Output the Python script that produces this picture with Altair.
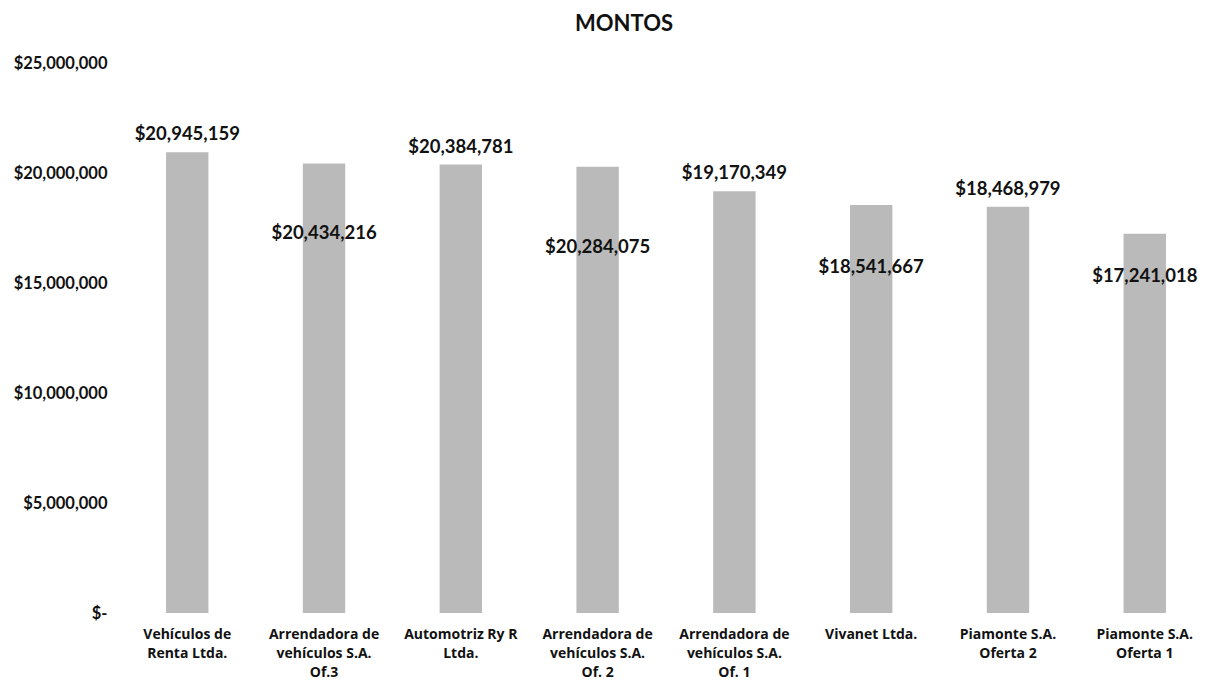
import altair as alt
import pandas as pd

names = [
    "Vehículos de|Renta Ltda.",
    "Arrendadora de|vehículos S.A.|Of.3",
    "Automotriz Ry R|Ltda.",
    "Arrendadora de|vehículos S.A.|Of. 2",
    "Arrendadora de|vehículos S.A.|Of. 1",
    "Vivanet Ltda.",
    "Piamonte S.A.|Oferta 2",
    "Piamonte S.A.|Oferta 1",
]
values = [20945159, 20434216, 20384781, 20284075, 19170349, 18541667, 18468979, 17241018]

# label placement style (pixels relative to bar top)
label_dy = [-18, 70, -18, 80, -18, 62, -18, 42]

df = pd.DataFrame({"name": names, "value": values, "order": list(range(len(names)))})
df["label"] = df["value"].map(lambda v: "${:,}".format(v))

FONT = "Lato"

x = alt.X(
    "name:N",
    sort=names,
    title=None,
    scale=alt.Scale(paddingInner=0.69, paddingOuter=0.3),
    axis=alt.Axis(
        labelAngle=0,
        labelExpr="split(datum.label, '|')",
        labelFont="Open Sans",
        labelFontWeight="bold",
        labelFontSize=14,
        labelColor="#111111",
        labelLineHeight=19,
        labelPadding=14,
        ticks=False,
        domain=False,
        labelBaseline="top",
    ),
)
y = alt.Y(
    "value:Q",
    title=None,
    scale=alt.Scale(domain=[0, 25000000], nice=False, zero=True),
    axis=alt.Axis(
        values=[0, 5000000, 10000000, 15000000, 20000000, 25000000],
        labelExpr="datum.value == 0 ? '$-' : '$' + format(datum.value, ',')",
        labelFont=FONT,
        labelFontWeight="bold",
        labelFontSize=16.5,
        labelColor="#111111",
        labelPadding=18,
        ticks=False,
        domain=False,
        grid=False,
    ),
)

base = alt.Chart(df)
bars = base.mark_bar(color="#bababa").encode(x=x, y=y)

layers = [bars]
for i, nm in enumerate(names):
    layers.append(
        base.transform_filter(alt.datum.order == i)
        .mark_text(
            font=FONT, fontWeight="bold", fontSize=18.5, color="#111111",
            baseline="middle", align="center", dy=label_dy[i],
        )
        .encode(x=x, y=y, text="label:N")
    )

chart = (
    alt.layer(*layers)
    .properties(
        width=1082,
        height=550,
        title=alt.TitleParams(
            "MONTOS", font=FONT, fontSize=22, fontWeight="bold",
            color="#111111", anchor="middle", offset=19, dx=-42,
        ),
    )
    .configure(background="white")
    .configure_view(strokeWidth=0, stroke=None)
)

chart.save("out.html", embed_options={"renderer": "svg", "actions": False})
